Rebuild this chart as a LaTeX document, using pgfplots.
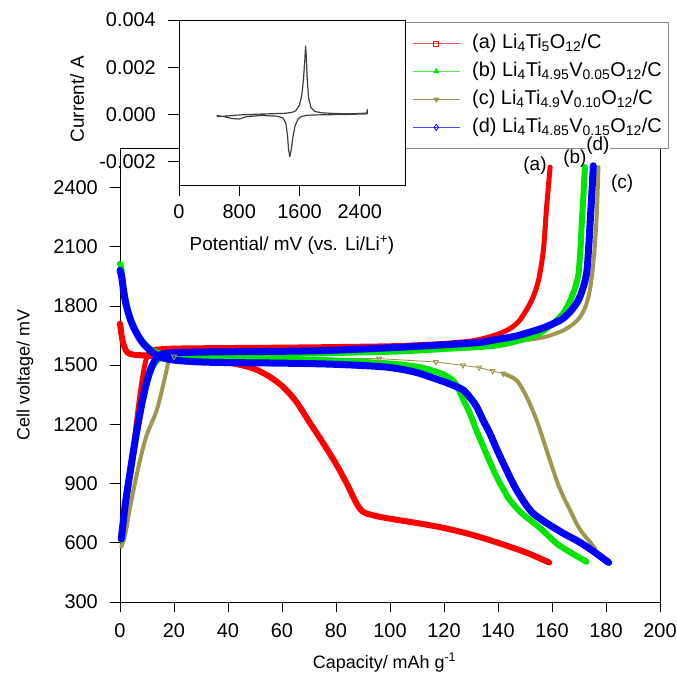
\documentclass[border=0pt]{standalone}
\usepackage{fontspec}
\setmainfont{Liberation Sans}
\usepackage{pgfplots}
\pgfplotsset{compat=1.18}
\definecolor{cR}{RGB}{255,0,0}
\definecolor{cG}{RGB}{0,230,0}
\definecolor{cO}{RGB}{160,150,80}
\definecolor{cB}{RGB}{0,0,255}
\begin{document}
\begin{tikzpicture}
\begin{axis}[
  at={(120bp,71bp)}, anchor=south west,
  scale only axis, width=540bp, height=454bp,
  xmin=0, xmax=200, ymin=300, ymax=2600,
  xtick={0,20,...,200}, ytick={300,600,...,2400},
  tick align=outside, tick pos=left, major tick length=10bp,
  scaled ticks=false,
  /pgf/number format/assume math mode=true,
  /pgf/number format/1000 sep={},
  tick label style={font=\fontsize{20}{24}\selectfont},
  xticklabel style={inner sep=3bp, yshift=-8bp},
  yticklabel style={inner sep=3bp, xshift=-9bp},
  axis line style={line width=0.8bp},
  every tick/.style={black, line width=0.8bp},
  clip=false,
  xlabel={Capacity/ mAh g\textsuperscript{-1}},
  ylabel={Cell voltage/ mV},
  label style={font=\fontsize{18}{22}\selectfont},
  xlabel style={at={(axis description cs:0.49,-0.1454)}, anchor=base},
  ylabel style={at={(axis description cs:-0.176,0.5)}, anchor=center},
  legend style={at={(axis description cs:0.5278,1.2775)}, anchor=north west,
    draw=black!45, line width=0.8bp, fill=white,
    font=\fontsize{20}{24}\selectfont, inner xsep=6bp, inner ysep=10bp,
    row sep=6bp, nodes={inner sep=1bp, text height=15bp, text depth=5bp}},
  legend cell align=left,
  legend image code/.code={\draw[mark repeat=2,mark phase=2,#1] plot coordinates {(0bp,0bp) (23.5bp,0bp) (47bp,0bp)}; \path (-1bp,0bp) (58bp,0bp);},
  line join=round, line cap=round,
]
\addlegendimage{cR!70, line width=0.8bp, mark=square, mark size=2.5bp, mark options={solid, cR, fill=white}}
\addlegendentry{(a) Li\textsubscript{4}Ti\textsubscript{5}O\textsubscript{12}/C}
\addlegendimage{cG!70, line width=0.8bp, mark=triangle*, mark size=2.8bp, mark options={solid, cG}}
\addlegendentry{(b) Li\textsubscript{4}Ti\textsubscript{4.95}V\textsubscript{0.05}O\textsubscript{12}/C}
\addlegendimage{cO, line width=0.8bp, mark=triangle*, mark size=2.8bp, mark options={solid, cO, rotate=180}}
\addlegendentry{(c) Li\textsubscript{4}Ti\textsubscript{4.9}V\textsubscript{0.10}O\textsubscript{12}/C}
\addlegendimage{cB!70, line width=0.8bp, mark=diamond, mark size=3bp, mark options={solid, cB, fill=white}}
\addlegendentry{(d) Li\textsubscript{4}Ti\textsubscript{4.85}V\textsubscript{0.15}O\textsubscript{12}/C}

% (c) olive
\addplot[cO, line width=4bp, smooth, tension=0.5, forget plot] coordinates {
(0.5,580)(1.9,640)(4,800)(7.4,1018)(10,1150)(13.6,1272)(16.7,1440)(17.9,1516)(19,1545)(22,1558)(40,1563)(80,1570)(120,1588)(140,1610)(152,1630)(158,1645)(164.2,1676)(168,1710)(170.4,1744)(172.5,1800)(174,1879)(175.2,2000)(176,2131)(176.7,2300)(177.2,2503)};
\addplot[cO, line width=4bp, smooth, tension=0.5, forget plot] coordinates {
(0,1990)(1,1880)(2.5,1790)(5,1690)(8,1620)(12,1570)(16,1550)(20,1543)};
\addplot[cO, line width=0.9bp, mark=triangle, mark size=3bp, mark options={rotate=180}, forget plot] coordinates {
(20,1543)(96,1533)(117,1516)(127,1499)(133,1488)(138,1470)(142,1457)};
\addplot[cO, line width=4bp, smooth, tension=0.5, forget plot] coordinates {
(142,1457)(146.9,1423)(150.6,1339)(154.3,1221)(158,1069)(161.7,917)(164,840)(166.7,765)(169,700)(171,655)(174,605)(176,570)};

% (a) red
\addplot[cR, line width=6bp, smooth, tension=0.5, forget plot] coordinates {
(0,1710)(0.5,1660)(1,1620)(2,1580)(3,1562)(5,1553)(10,1548)(20,1538)(30,1526)(40,1512)(45,1500)(50,1480)(55,1445)(60,1395)(65,1320)(70,1215)(75,1110)(80,1000)(84,900)(87,815)(89,770)(91,750)(95,735)(100,722)(110,700)(120,675)(130,642)(140,600)(150,553)(159,500)};
\addplot[cR, line width=5bp, smooth, tension=0.5, forget plot] coordinates {
(0.3,620)(1.5,750)(3,880)(4.5,1030)(6,1200)(7.5,1360)(8.5,1450)(9.5,1520)(10.5,1560)(12,1578)(20,1586)(40,1589)(60,1591)(80,1594)(100,1598)(110,1603)(120,1610)(130,1622)(136,1640)(141,1662)(145,1690)(148,1727)(151,1790)(153,1845)(155,1929)(156.8,2081)(158,2300)(159.3,2503)};

% (b) green
\addplot[cG, line width=6bp, smooth, tension=0.5, forget plot] coordinates {
(0,2014)(0.5,1990)(1.2,1900)(2.5,1800)(4,1730)(6,1670)(9,1610)(12,1575)(16,1555)(20,1545)(40,1538)(60,1532)(78,1524)(100,1508)(110,1492)(115,1476)(120,1452)(123.5,1420)(125,1389)(127,1330)(129.6,1255)(132,1170)(134.6,1086)(137,1010)(139.5,934)(142,870)(144.4,816)(148,760)(151.9,715)(156,670)(161.7,597)(167,550)(172.8,504)};
\addplot[cG, line width=6bp, smooth, tension=0.5, forget plot] coordinates {
(0.3,615)(2,790)(4,970)(6,1140)(8,1290)(10,1410)(12,1490)(14,1525)(17,1545)(30,1552)(60,1557)(100,1568)(120,1582)(139.5,1600)(152,1642)(157,1675)(161.7,1727)(164.5,1770)(166.7,1826)(168.5,1890)(169.8,1963)(170.6,2100)(171,2216)(171.6,2350)(172.2,2503)};

% (d) blue
\addplot[cB, line width=7bp, smooth, tension=0.5, forget plot] coordinates {
(0,1980)(0.6,1950)(1.5,1860)(2.5,1794)(4,1725)(5.6,1676)(8,1620)(10,1590)(13,1555)(16,1536)(21,1524)(30,1516)(40,1513)(60,1510)(78,1505)(95,1494)(102.5,1483)(110,1462)(118.5,1423)(123,1400)(127.2,1373)(130,1330)(132.1,1289)(134.5,1220)(137,1154)(139.5,1075)(142,1002)(144.5,930)(146.9,867)(150,800)(153,749)(158,700)(164.2,648)(170,605)(175,560)(181,500)};
\addplot[cB, line width=7bp, smooth, tension=0.5, forget plot] coordinates {
(0.5,620)(2,800)(4,980)(6,1150)(8,1300)(10,1420)(12,1500)(14,1542)(17,1560)(30,1566)(60,1570)(78,1575)(100,1588)(120,1603)(133,1615)(139.5,1630)(146,1645)(152,1668)(157,1690)(163,1727)(166,1760)(169,1811)(171,1870)(172.8,1963)(173.6,2100)(174.1,2216)(174.8,2380)(175.3,2510)};

\coordinate (la) at (axis cs:153.7,2511);
\coordinate (lb) at (axis cs:168.5,2547);
\coordinate (lc) at (axis cs:186,2420);
\coordinate (ld) at (axis cs:177,2612);
\end{axis}
\node[font=\fontsize{19}{22}\selectfont] at (la) {(a)};
\node[font=\fontsize{19}{22}\selectfont] at (lb) {(b)};
\node[font=\fontsize{19}{22}\selectfont] at (lc) {(c)};
\node[font=\fontsize{19}{22}\selectfont, fill=white, inner sep=0.5bp] at (ld) {(d)};

\begin{axis}[
  at={(179bp,488bp)}, anchor=south west,
  scale only axis, width=226bp, height=165bp,
  xmin=0, xmax=3000, ymin=-0.003, ymax=0.004,
  xtick={0,800,1600,2400}, ytick={-0.002,0,0.002,0.004},
  tick align=outside, tick pos=left, major tick length=11bp,
  scaled ticks=false,
  /pgf/number format/assume math mode=true,
  /pgf/number format/1000 sep={},
  tick label style={font=\fontsize{20}{24}\selectfont},
  xticklabel style={inner sep=3bp, yshift=-5bp},
  yticklabel style={inner sep=3bp, xshift=-9bp, /pgf/number format/fixed, /pgf/number format/fixed zerofill, /pgf/number format/precision=3},
  axis line style={line width=0.8bp},
  every tick/.style={black, line width=0.8bp},
  axis background/.style={fill=white},
  xlabel={Potential/ mV (vs. Li/Li\textsuperscript{+})},
  ylabel={Current/ A},
  label style={font=\fontsize{19}{22}\selectfont},
  xlabel style={at={(axis description cs:0.5,-0.394)}, anchor=base},
  ylabel style={at={(axis description cs:-0.451,0.52)}, anchor=center},
]
\addplot[black!75, line width=1.2bp, line join=round] coordinates {
(500,-0.0001)(600,-0.00008)(800,-0.00003)(1000,0)(1200,0.00002)(1400,0.00004)(1500,0.00008)(1550,0.00015)(1600,0.0004)(1630,0.0008)(1650,0.0014)(1670,0.0023)(1680,0.0029)(1690,0.0025)(1700,0.0016)(1720,0.0007)(1750,0.0003)(1800,0.00012)(1900,0.00006)(2100,0.00003)(2300,0.00002)(2490,0.00005)(2500,0.0002)
(2500,0.00002)(2200,-0.00001)(1900,-0.00002)(1700,-0.00004)(1620,-0.0001)(1580,-0.0002)(1540,-0.0005)(1510,-0.001)(1490,-0.0015)(1470,-0.0018)(1455,-0.0015)(1440,-0.0009)(1420,-0.0004)(1380,-0.00015)(1300,-0.00008)(1100,-0.00005)(900,-0.0001)(800,-0.0002)(700,-0.00018)(600,-0.0001)(500,-0.00005)};
\end{axis}
\pgfresetboundingbox
\path[use as bounding box] (0,0) rectangle (677bp,673bp);
\end{tikzpicture}
\end{document}
